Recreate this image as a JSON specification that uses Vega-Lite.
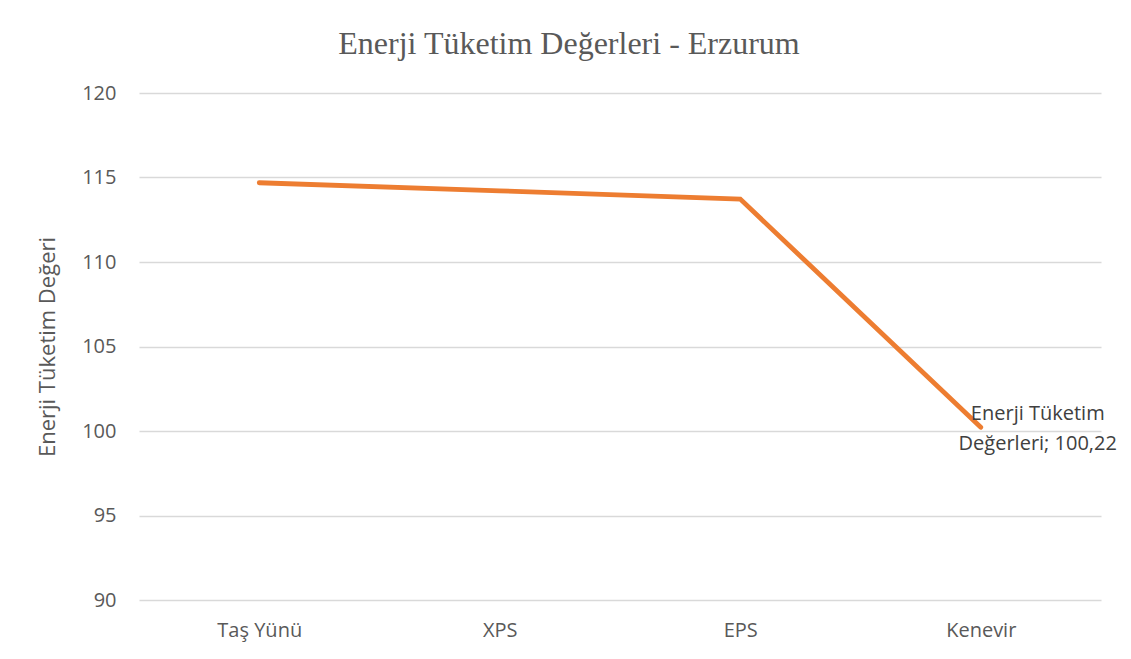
{
  "$schema": "https://vega.github.io/schema/vega-lite/v6.json",
  "width": 962,
  "height": 507,
  "autosize": {"type": "none"},
  "padding": {"left": 139, "top": 93, "right": 30, "bottom": 59},
  "background": "white",
  "title": {
    "text": "Enerji Tüketim Değerleri - Erzurum",
    "font": "Liberation Serif",
    "fontSize": 32,
    "fontWeight": "normal",
    "color": "#595959",
    "anchor": "middle",
    "dx": -51,
    "offset": 22
  },
  "config": {
    "view": {"stroke": null},
    "axis": {
      "labelFont": "Open Sans",
      "labelFontSize": 20,
      "labelColor": "#595959",
      "titleFont": "Open Sans",
      "titleFontSize": 22,
      "titleFontWeight": "normal",
      "titleColor": "#595959",
      "domain": false,
      "ticks": false,
      "gridColor": "#D9D9D9",
      "gridWidth": 1.3
    }
  },
  "data": {
    "values": [
      {"malzeme": "Taş Yünü", "deger": 114.69, "etiket": ""},
      {"malzeme": "XPS", "deger": 114.21, "etiket": ""},
      {"malzeme": "EPS", "deger": 113.72, "etiket": ""},
      {"malzeme": "Kenevir", "deger": 100.22, "etiket": "Enerji Tüketim\nDeğerleri; 100,22"}
    ]
  },
  "encoding": {
    "x": {
      "field": "malzeme",
      "type": "nominal",
      "sort": null,
      "scale": {"type": "point", "padding": 0.5},
      "axis": {"title": null, "labelAngle": 0, "labelPadding": 20, "grid": false}
    },
    "y": {
      "field": "deger",
      "type": "quantitative",
      "scale": {"domain": [90, 120], "nice": false, "zero": false},
      "axis": {"title": "Enerji Tüketim Değeri", "values": [90, 95, 100, 105, 110, 115, 120], "labelPadding": 23, "titlePadding": 22}
    }
  },
  "layer": [
    {
      "mark": {"type": "line", "color": "#ED7D31", "strokeWidth": 4.8, "strokeCap": "round", "strokeJoin": "miter"}
    },
    {
      "mark": {"type": "text", "font": "Open Sans", "fontSize": 20, "color": "#404040", "align": "center", "baseline": "alphabetic", "dx": 57, "dy": -7, "lineBreak": "\n", "lineHeight": 30},
      "encoding": {"text": {"field": "etiket"}}
    }
  ]
}
